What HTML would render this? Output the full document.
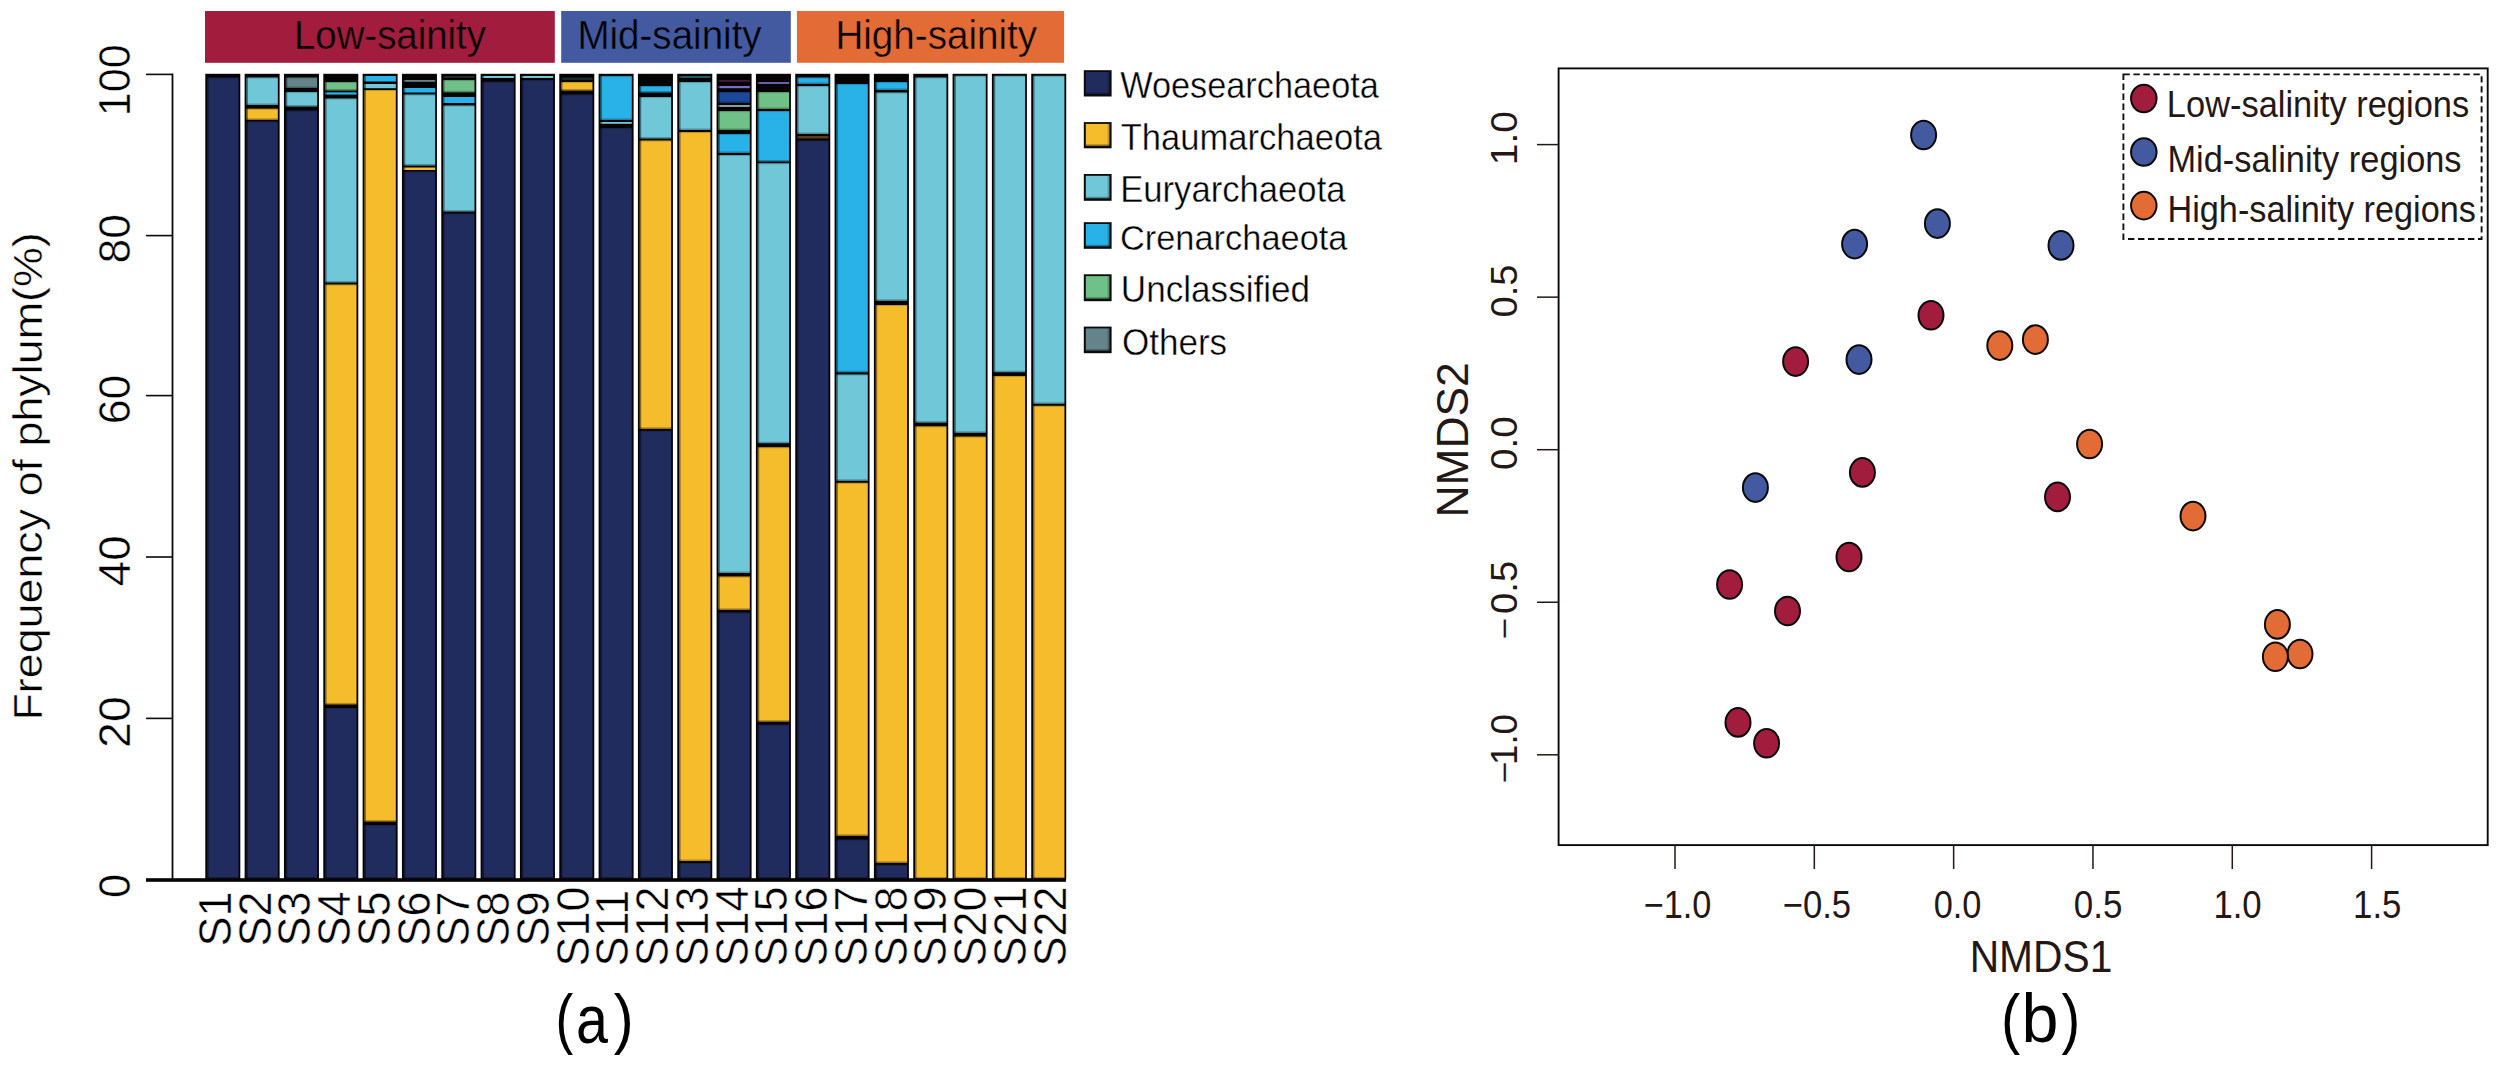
<!DOCTYPE html>
<html lang="en"><head><meta charset="utf-8"><title>Archaeal community composition and NMDS</title>
<style>html,body{margin:0;padding:0;background:#fff}body{width:2500px;height:1074px;overflow:hidden}svg{display:block}svg text{font-family:"Liberation Sans",Arial,Helvetica,sans-serif}</style>
</head><body>
<svg width="2500" height="1074" viewBox="0 0 2500 1074" role="img" aria-label="Archaeal phylum composition bar chart and NMDS ordination">
<rect width="2500" height="1074" fill="#fff"/>
<rect x="205" y="11" width="349.8" height="51.8" fill="#A21C3E"/>
<rect x="561.2" y="11" width="229.6" height="51.8" fill="#435AA0"/>
<rect x="796.9" y="11" width="267.2" height="51.8" fill="#E36C36"/>
<rect x="205.30" y="73.8" width="35.0" height="805.6" fill="#070304"/>
<rect x="207.10" y="77.5" width="31.40" height="800.90" fill="#1F2C5D"/>
<rect x="207.10" y="876.90" width="31.40" height="1.5" fill="#000" opacity="0.28"/>
<rect x="207.10" y="77.50" width="31.40" height="1.1" fill="#000" opacity="0.2"/>
<rect x="207.10" y="75" width="1.5" height="803.4" fill="#000" opacity="0.45"/>
<rect x="244.63" y="73.8" width="35.0" height="805.6" fill="#070304"/>
<rect x="246.43" y="77.5" width="31.40" height="27.50" fill="#70C7D8"/>
<rect x="246.43" y="103.50" width="31.40" height="1.5" fill="#000" opacity="0.28"/>
<rect x="246.43" y="77.50" width="31.40" height="1.1" fill="#000" opacity="0.2"/>
<rect x="246.43" y="108.7" width="31.40" height="11.10" fill="#F5BC2C"/>
<rect x="246.43" y="118.30" width="31.40" height="1.5" fill="#000" opacity="0.28"/>
<rect x="246.43" y="108.70" width="31.40" height="1.1" fill="#000" opacity="0.2"/>
<rect x="246.43" y="121.5" width="31.40" height="756.90" fill="#1F2C5D"/>
<rect x="246.43" y="876.90" width="31.40" height="1.5" fill="#000" opacity="0.28"/>
<rect x="246.43" y="121.50" width="31.40" height="1.1" fill="#000" opacity="0.2"/>
<rect x="246.43" y="75" width="1.5" height="803.4" fill="#000" opacity="0.45"/>
<rect x="283.96" y="73.8" width="35.0" height="805.6" fill="#070304"/>
<rect x="285.76" y="77.5" width="31.40" height="10.50" fill="#64838A"/>
<rect x="285.76" y="86.50" width="31.40" height="1.5" fill="#000" opacity="0.28"/>
<rect x="285.76" y="77.50" width="31.40" height="1.1" fill="#000" opacity="0.2"/>
<rect x="285.76" y="92" width="31.40" height="14.50" fill="#70C7D8"/>
<rect x="285.76" y="105.00" width="31.40" height="1.5" fill="#000" opacity="0.28"/>
<rect x="285.76" y="92.00" width="31.40" height="1.1" fill="#000" opacity="0.2"/>
<rect x="285.76" y="110.5" width="31.40" height="767.90" fill="#1F2C5D"/>
<rect x="285.76" y="876.90" width="31.40" height="1.5" fill="#000" opacity="0.28"/>
<rect x="285.76" y="110.50" width="31.40" height="1.1" fill="#000" opacity="0.2"/>
<rect x="285.76" y="75" width="1.5" height="803.4" fill="#000" opacity="0.45"/>
<rect x="323.29" y="73.8" width="35.0" height="805.6" fill="#070304"/>
<rect x="325.09" y="82" width="31.40" height="8.50" fill="#6FC187"/>
<rect x="325.09" y="89.00" width="31.40" height="1.5" fill="#000" opacity="0.28"/>
<rect x="325.09" y="82.00" width="31.40" height="1.1" fill="#000" opacity="0.2"/>
<rect x="325.09" y="92.3" width="31.40" height="2.30" fill="#28B2E8"/>
<rect x="325.09" y="98.5" width="31.40" height="184.00" fill="#70C7D8"/>
<rect x="325.09" y="281.00" width="31.40" height="1.5" fill="#000" opacity="0.28"/>
<rect x="325.09" y="98.50" width="31.40" height="1.1" fill="#000" opacity="0.2"/>
<rect x="325.09" y="284.5" width="31.40" height="419.90" fill="#F5BC2C"/>
<rect x="325.09" y="702.90" width="31.40" height="1.5" fill="#000" opacity="0.28"/>
<rect x="325.09" y="284.50" width="31.40" height="1.1" fill="#000" opacity="0.2"/>
<rect x="325.09" y="708" width="31.40" height="170.40" fill="#1F2C5D"/>
<rect x="325.09" y="876.90" width="31.40" height="1.5" fill="#000" opacity="0.28"/>
<rect x="325.09" y="708.00" width="31.40" height="1.1" fill="#000" opacity="0.2"/>
<rect x="325.09" y="75" width="1.5" height="803.4" fill="#000" opacity="0.45"/>
<rect x="362.62" y="73.8" width="35.0" height="805.6" fill="#070304"/>
<rect x="364.42" y="76" width="31.40" height="5.50" fill="#28B2E8"/>
<rect x="364.42" y="84" width="31.40" height="4.20" fill="#70C7D8"/>
<rect x="364.42" y="90" width="31.40" height="731.50" fill="#F5BC2C"/>
<rect x="364.42" y="820.00" width="31.40" height="1.5" fill="#000" opacity="0.28"/>
<rect x="364.42" y="90.00" width="31.40" height="1.1" fill="#000" opacity="0.2"/>
<rect x="364.42" y="825" width="31.40" height="53.40" fill="#1F2C5D"/>
<rect x="364.42" y="876.90" width="31.40" height="1.5" fill="#000" opacity="0.28"/>
<rect x="364.42" y="825.00" width="31.40" height="1.1" fill="#000" opacity="0.2"/>
<rect x="364.42" y="75" width="1.5" height="803.4" fill="#000" opacity="0.45"/>
<rect x="401.95" y="73.8" width="35.0" height="805.6" fill="#070304"/>
<rect x="403.75" y="80" width="31.40" height="1.80" fill="#64838A"/>
<rect x="403.75" y="88" width="31.40" height="4.50" fill="#28B2E8"/>
<rect x="403.75" y="94.5" width="31.40" height="71.00" fill="#70C7D8"/>
<rect x="403.75" y="164.00" width="31.40" height="1.5" fill="#000" opacity="0.28"/>
<rect x="403.75" y="94.50" width="31.40" height="1.1" fill="#000" opacity="0.2"/>
<rect x="403.75" y="167.5" width="31.40" height="2.50" fill="#F5BC2C"/>
<rect x="403.75" y="171.5" width="31.40" height="706.90" fill="#1F2C5D"/>
<rect x="403.75" y="876.90" width="31.40" height="1.5" fill="#000" opacity="0.28"/>
<rect x="403.75" y="171.50" width="31.40" height="1.1" fill="#000" opacity="0.2"/>
<rect x="403.75" y="75" width="1.5" height="803.4" fill="#000" opacity="0.45"/>
<rect x="441.28" y="73.8" width="35.0" height="805.6" fill="#070304"/>
<rect x="443.08" y="76" width="31.40" height="2.00" fill="#1a2a28"/>
<rect x="443.08" y="80" width="31.40" height="12.30" fill="#6FC187"/>
<rect x="443.08" y="90.80" width="31.40" height="1.5" fill="#000" opacity="0.28"/>
<rect x="443.08" y="80.00" width="31.40" height="1.1" fill="#000" opacity="0.2"/>
<rect x="443.08" y="97" width="31.40" height="6.00" fill="#28B2E8"/>
<rect x="443.08" y="105.5" width="31.40" height="106.00" fill="#70C7D8"/>
<rect x="443.08" y="210.00" width="31.40" height="1.5" fill="#000" opacity="0.28"/>
<rect x="443.08" y="105.50" width="31.40" height="1.1" fill="#000" opacity="0.2"/>
<rect x="443.08" y="213.5" width="31.40" height="664.90" fill="#1F2C5D"/>
<rect x="443.08" y="876.90" width="31.40" height="1.5" fill="#000" opacity="0.28"/>
<rect x="443.08" y="213.50" width="31.40" height="1.1" fill="#000" opacity="0.2"/>
<rect x="443.08" y="75" width="1.5" height="803.4" fill="#000" opacity="0.45"/>
<rect x="480.61" y="73.8" width="35.0" height="805.6" fill="#070304"/>
<rect x="482.41" y="76" width="31.40" height="2.00" fill="#70C7D8"/>
<rect x="482.41" y="81.8" width="31.40" height="796.60" fill="#1F2C5D"/>
<rect x="482.41" y="876.90" width="31.40" height="1.5" fill="#000" opacity="0.28"/>
<rect x="482.41" y="81.80" width="31.40" height="1.1" fill="#000" opacity="0.2"/>
<rect x="482.41" y="75" width="1.5" height="803.4" fill="#000" opacity="0.45"/>
<rect x="519.94" y="73.8" width="35.0" height="805.6" fill="#070304"/>
<rect x="521.74" y="76" width="31.40" height="2.00" fill="#70C7D8"/>
<rect x="521.74" y="80" width="31.40" height="798.40" fill="#1F2C5D"/>
<rect x="521.74" y="876.90" width="31.40" height="1.5" fill="#000" opacity="0.28"/>
<rect x="521.74" y="80.00" width="31.40" height="1.1" fill="#000" opacity="0.2"/>
<rect x="521.74" y="75" width="1.5" height="803.4" fill="#000" opacity="0.45"/>
<rect x="559.27" y="73.8" width="35.0" height="805.6" fill="#070304"/>
<rect x="561.07" y="77.5" width="31.40" height="2.50" fill="#1a2a28"/>
<rect x="561.07" y="82" width="31.40" height="8.50" fill="#F5BC2C"/>
<rect x="561.07" y="89.00" width="31.40" height="1.5" fill="#000" opacity="0.28"/>
<rect x="561.07" y="82.00" width="31.40" height="1.1" fill="#000" opacity="0.2"/>
<rect x="561.07" y="94.5" width="31.40" height="783.90" fill="#1F2C5D"/>
<rect x="561.07" y="876.90" width="31.40" height="1.5" fill="#000" opacity="0.28"/>
<rect x="561.07" y="94.50" width="31.40" height="1.1" fill="#000" opacity="0.2"/>
<rect x="561.07" y="75" width="1.5" height="803.4" fill="#000" opacity="0.45"/>
<rect x="598.60" y="73.8" width="35.0" height="805.6" fill="#070304"/>
<rect x="600.40" y="76" width="31.40" height="44.00" fill="#28B2E8"/>
<rect x="600.40" y="118.50" width="31.40" height="1.5" fill="#000" opacity="0.28"/>
<rect x="600.40" y="76.00" width="31.40" height="1.1" fill="#000" opacity="0.2"/>
<rect x="600.40" y="122" width="31.40" height="1.80" fill="#70C7D8"/>
<rect x="600.40" y="128" width="31.40" height="750.40" fill="#1F2C5D"/>
<rect x="600.40" y="876.90" width="31.40" height="1.5" fill="#000" opacity="0.28"/>
<rect x="600.40" y="128.00" width="31.40" height="1.1" fill="#000" opacity="0.2"/>
<rect x="600.40" y="75" width="1.5" height="803.4" fill="#000" opacity="0.45"/>
<rect x="637.93" y="73.8" width="35.0" height="805.6" fill="#070304"/>
<rect x="639.73" y="86" width="31.40" height="6.50" fill="#28B2E8"/>
<rect x="639.73" y="91.00" width="31.40" height="1.5" fill="#000" opacity="0.28"/>
<rect x="639.73" y="86.00" width="31.40" height="1.1" fill="#000" opacity="0.2"/>
<rect x="639.73" y="97" width="31.40" height="41.50" fill="#70C7D8"/>
<rect x="639.73" y="137.00" width="31.40" height="1.5" fill="#000" opacity="0.28"/>
<rect x="639.73" y="97.00" width="31.40" height="1.1" fill="#000" opacity="0.2"/>
<rect x="639.73" y="140.5" width="31.40" height="288.30" fill="#F5BC2C"/>
<rect x="639.73" y="427.30" width="31.40" height="1.5" fill="#000" opacity="0.28"/>
<rect x="639.73" y="140.50" width="31.40" height="1.1" fill="#000" opacity="0.2"/>
<rect x="639.73" y="430.7" width="31.40" height="447.70" fill="#1F2C5D"/>
<rect x="639.73" y="876.90" width="31.40" height="1.5" fill="#000" opacity="0.28"/>
<rect x="639.73" y="430.70" width="31.40" height="1.1" fill="#000" opacity="0.2"/>
<rect x="639.73" y="75" width="1.5" height="803.4" fill="#000" opacity="0.45"/>
<rect x="677.26" y="73.8" width="35.0" height="805.6" fill="#070304"/>
<rect x="679.06" y="76" width="31.40" height="2.00" fill="#1a5a69"/>
<rect x="679.06" y="82" width="31.40" height="48.00" fill="#70C7D8"/>
<rect x="679.06" y="128.50" width="31.40" height="1.5" fill="#000" opacity="0.28"/>
<rect x="679.06" y="82.00" width="31.40" height="1.1" fill="#000" opacity="0.2"/>
<rect x="679.06" y="132" width="31.40" height="729.00" fill="#F5BC2C"/>
<rect x="679.06" y="859.50" width="31.40" height="1.5" fill="#000" opacity="0.28"/>
<rect x="679.06" y="132.00" width="31.40" height="1.1" fill="#000" opacity="0.2"/>
<rect x="679.06" y="863" width="31.40" height="15.40" fill="#1F2C5D"/>
<rect x="679.06" y="876.90" width="31.40" height="1.5" fill="#000" opacity="0.28"/>
<rect x="679.06" y="863.00" width="31.40" height="1.1" fill="#000" opacity="0.2"/>
<rect x="679.06" y="75" width="1.5" height="803.4" fill="#000" opacity="0.45"/>
<rect x="716.59" y="73.8" width="35.0" height="805.6" fill="#070304"/>
<rect x="718.39" y="80" width="31.40" height="1.80" fill="#46193c"/>
<rect x="718.39" y="86" width="31.40" height="2.20" fill="#786ec8"/>
<rect x="718.39" y="92" width="31.40" height="11.00" fill="#1B489B"/>
<rect x="718.39" y="101.50" width="31.40" height="1.5" fill="#000" opacity="0.28"/>
<rect x="718.39" y="92.00" width="31.40" height="1.1" fill="#000" opacity="0.2"/>
<rect x="718.39" y="105" width="31.40" height="2.00" fill="#82a0a5"/>
<rect x="718.39" y="111" width="31.40" height="19.00" fill="#6FC187"/>
<rect x="718.39" y="128.50" width="31.40" height="1.5" fill="#000" opacity="0.28"/>
<rect x="718.39" y="111.00" width="31.40" height="1.1" fill="#000" opacity="0.2"/>
<rect x="718.39" y="134" width="31.40" height="19.00" fill="#28B2E8"/>
<rect x="718.39" y="151.50" width="31.40" height="1.5" fill="#000" opacity="0.28"/>
<rect x="718.39" y="134.00" width="31.40" height="1.1" fill="#000" opacity="0.2"/>
<rect x="718.39" y="155" width="31.40" height="418.00" fill="#70C7D8"/>
<rect x="718.39" y="571.50" width="31.40" height="1.5" fill="#000" opacity="0.28"/>
<rect x="718.39" y="155.00" width="31.40" height="1.1" fill="#000" opacity="0.2"/>
<rect x="718.39" y="576.5" width="31.40" height="33.30" fill="#F5BC2C"/>
<rect x="718.39" y="608.30" width="31.40" height="1.5" fill="#000" opacity="0.28"/>
<rect x="718.39" y="576.50" width="31.40" height="1.1" fill="#000" opacity="0.2"/>
<rect x="718.39" y="612.5" width="31.40" height="265.90" fill="#1F2C5D"/>
<rect x="718.39" y="876.90" width="31.40" height="1.5" fill="#000" opacity="0.28"/>
<rect x="718.39" y="612.50" width="31.40" height="1.1" fill="#000" opacity="0.2"/>
<rect x="718.39" y="75" width="1.5" height="803.4" fill="#000" opacity="0.45"/>
<rect x="755.92" y="73.8" width="35.0" height="805.6" fill="#070304"/>
<rect x="757.72" y="82" width="31.40" height="2.00" fill="#695faf"/>
<rect x="757.72" y="92" width="31.40" height="17.00" fill="#6FC187"/>
<rect x="757.72" y="107.50" width="31.40" height="1.5" fill="#000" opacity="0.28"/>
<rect x="757.72" y="92.00" width="31.40" height="1.1" fill="#000" opacity="0.2"/>
<rect x="757.72" y="111" width="31.40" height="50.50" fill="#28B2E8"/>
<rect x="757.72" y="160.00" width="31.40" height="1.5" fill="#000" opacity="0.28"/>
<rect x="757.72" y="111.00" width="31.40" height="1.1" fill="#000" opacity="0.2"/>
<rect x="757.72" y="163.2" width="31.40" height="280.00" fill="#70C7D8"/>
<rect x="757.72" y="441.70" width="31.40" height="1.5" fill="#000" opacity="0.28"/>
<rect x="757.72" y="163.20" width="31.40" height="1.1" fill="#000" opacity="0.2"/>
<rect x="757.72" y="447.2" width="31.40" height="274.40" fill="#F5BC2C"/>
<rect x="757.72" y="720.10" width="31.40" height="1.5" fill="#000" opacity="0.28"/>
<rect x="757.72" y="447.20" width="31.40" height="1.1" fill="#000" opacity="0.2"/>
<rect x="757.72" y="724.7" width="31.40" height="153.70" fill="#1F2C5D"/>
<rect x="757.72" y="876.90" width="31.40" height="1.5" fill="#000" opacity="0.28"/>
<rect x="757.72" y="724.70" width="31.40" height="1.1" fill="#000" opacity="0.2"/>
<rect x="757.72" y="75" width="1.5" height="803.4" fill="#000" opacity="0.45"/>
<rect x="795.25" y="73.8" width="35.0" height="805.6" fill="#070304"/>
<rect x="797.05" y="77.5" width="31.40" height="6.50" fill="#28B2E8"/>
<rect x="797.05" y="82.50" width="31.40" height="1.5" fill="#000" opacity="0.28"/>
<rect x="797.05" y="77.50" width="31.40" height="1.1" fill="#000" opacity="0.2"/>
<rect x="797.05" y="86" width="31.40" height="48.00" fill="#70C7D8"/>
<rect x="797.05" y="132.50" width="31.40" height="1.5" fill="#000" opacity="0.28"/>
<rect x="797.05" y="86.00" width="31.40" height="1.1" fill="#000" opacity="0.2"/>
<rect x="797.05" y="136" width="31.40" height="2.50" fill="#5f3c19"/>
<rect x="797.05" y="140.5" width="31.40" height="737.90" fill="#1F2C5D"/>
<rect x="797.05" y="876.90" width="31.40" height="1.5" fill="#000" opacity="0.28"/>
<rect x="797.05" y="140.50" width="31.40" height="1.1" fill="#000" opacity="0.2"/>
<rect x="797.05" y="75" width="1.5" height="803.4" fill="#000" opacity="0.45"/>
<rect x="834.58" y="73.8" width="35.0" height="805.6" fill="#070304"/>
<rect x="836.38" y="84" width="31.40" height="288.30" fill="#28B2E8"/>
<rect x="836.38" y="370.80" width="31.40" height="1.5" fill="#000" opacity="0.28"/>
<rect x="836.38" y="84.00" width="31.40" height="1.1" fill="#000" opacity="0.2"/>
<rect x="836.38" y="374.5" width="31.40" height="106.30" fill="#70C7D8"/>
<rect x="836.38" y="479.30" width="31.40" height="1.5" fill="#000" opacity="0.28"/>
<rect x="836.38" y="374.50" width="31.40" height="1.1" fill="#000" opacity="0.2"/>
<rect x="836.38" y="482.8" width="31.40" height="353.00" fill="#F5BC2C"/>
<rect x="836.38" y="834.30" width="31.40" height="1.5" fill="#000" opacity="0.28"/>
<rect x="836.38" y="482.80" width="31.40" height="1.1" fill="#000" opacity="0.2"/>
<rect x="836.38" y="839.6" width="31.40" height="38.80" fill="#1F2C5D"/>
<rect x="836.38" y="876.90" width="31.40" height="1.5" fill="#000" opacity="0.28"/>
<rect x="836.38" y="839.60" width="31.40" height="1.1" fill="#000" opacity="0.2"/>
<rect x="836.38" y="75" width="1.5" height="803.4" fill="#000" opacity="0.45"/>
<rect x="873.91" y="73.8" width="35.0" height="805.6" fill="#070304"/>
<rect x="875.71" y="82" width="31.40" height="8.00" fill="#28B2E8"/>
<rect x="875.71" y="88.50" width="31.40" height="1.5" fill="#000" opacity="0.28"/>
<rect x="875.71" y="82.00" width="31.40" height="1.1" fill="#000" opacity="0.2"/>
<rect x="875.71" y="92.5" width="31.40" height="208.30" fill="#70C7D8"/>
<rect x="875.71" y="299.30" width="31.40" height="1.5" fill="#000" opacity="0.28"/>
<rect x="875.71" y="92.50" width="31.40" height="1.1" fill="#000" opacity="0.2"/>
<rect x="875.71" y="305" width="31.40" height="557.80" fill="#F5BC2C"/>
<rect x="875.71" y="861.30" width="31.40" height="1.5" fill="#000" opacity="0.28"/>
<rect x="875.71" y="305.00" width="31.40" height="1.1" fill="#000" opacity="0.2"/>
<rect x="875.71" y="864.8" width="31.40" height="13.60" fill="#1F2C5D"/>
<rect x="875.71" y="876.90" width="31.40" height="1.5" fill="#000" opacity="0.28"/>
<rect x="875.71" y="864.80" width="31.40" height="1.1" fill="#000" opacity="0.2"/>
<rect x="875.71" y="75" width="1.5" height="803.4" fill="#000" opacity="0.45"/>
<rect x="913.24" y="73.8" width="35.0" height="805.6" fill="#070304"/>
<rect x="915.04" y="77.5" width="31.40" height="345.10" fill="#70C7D8"/>
<rect x="915.04" y="421.10" width="31.40" height="1.5" fill="#000" opacity="0.28"/>
<rect x="915.04" y="77.50" width="31.40" height="1.1" fill="#000" opacity="0.2"/>
<rect x="915.04" y="426.3" width="31.40" height="452.10" fill="#F5BC2C"/>
<rect x="915.04" y="876.90" width="31.40" height="1.5" fill="#000" opacity="0.28"/>
<rect x="915.04" y="426.30" width="31.40" height="1.1" fill="#000" opacity="0.2"/>
<rect x="915.04" y="75" width="1.5" height="803.4" fill="#000" opacity="0.45"/>
<rect x="952.57" y="73.8" width="35.0" height="805.6" fill="#070304"/>
<rect x="954.37" y="75.8" width="31.40" height="357.00" fill="#70C7D8"/>
<rect x="954.37" y="431.30" width="31.40" height="1.5" fill="#000" opacity="0.28"/>
<rect x="954.37" y="75.80" width="31.40" height="1.1" fill="#000" opacity="0.2"/>
<rect x="954.37" y="436.6" width="31.40" height="441.80" fill="#F5BC2C"/>
<rect x="954.37" y="876.90" width="31.40" height="1.5" fill="#000" opacity="0.28"/>
<rect x="954.37" y="436.60" width="31.40" height="1.1" fill="#000" opacity="0.2"/>
<rect x="954.37" y="75" width="1.5" height="803.4" fill="#000" opacity="0.45"/>
<rect x="991.90" y="73.8" width="35.0" height="805.6" fill="#070304"/>
<rect x="993.70" y="75.8" width="31.40" height="296.40" fill="#70C7D8"/>
<rect x="993.70" y="370.70" width="31.40" height="1.5" fill="#000" opacity="0.28"/>
<rect x="993.70" y="75.80" width="31.40" height="1.1" fill="#000" opacity="0.2"/>
<rect x="993.70" y="376" width="31.40" height="502.40" fill="#F5BC2C"/>
<rect x="993.70" y="876.90" width="31.40" height="1.5" fill="#000" opacity="0.28"/>
<rect x="993.70" y="376.00" width="31.40" height="1.1" fill="#000" opacity="0.2"/>
<rect x="993.70" y="75" width="1.5" height="803.4" fill="#000" opacity="0.45"/>
<rect x="1031.23" y="73.8" width="35.0" height="805.6" fill="#070304"/>
<rect x="1033.03" y="75.8" width="31.40" height="328.00" fill="#70C7D8"/>
<rect x="1033.03" y="402.30" width="31.40" height="1.5" fill="#000" opacity="0.28"/>
<rect x="1033.03" y="75.80" width="31.40" height="1.1" fill="#000" opacity="0.2"/>
<rect x="1033.03" y="405.8" width="31.40" height="472.60" fill="#F5BC2C"/>
<rect x="1033.03" y="876.90" width="31.40" height="1.5" fill="#000" opacity="0.28"/>
<rect x="1033.03" y="405.80" width="31.40" height="1.1" fill="#000" opacity="0.2"/>
<rect x="1033.03" y="75" width="1.5" height="803.4" fill="#000" opacity="0.45"/>
<rect x="171.6" y="73.6" width="1.8" height="806" fill="#0a0a0a"/>
<rect x="146" y="73.60" width="26.5" height="1.6" fill="#0a0a0a"/>
<rect x="146" y="234.80" width="26.5" height="1.6" fill="#0a0a0a"/>
<rect x="146" y="394.80" width="26.5" height="1.6" fill="#0a0a0a"/>
<rect x="146" y="556.20" width="26.5" height="1.6" fill="#0a0a0a"/>
<rect x="146" y="717.60" width="26.5" height="1.6" fill="#0a0a0a"/>
<rect x="146" y="878.2" width="920" height="3.6" fill="#070304"/>
<text transform="translate(231.00,946.5) rotate(-90) scale(1,1.02)" font-size="45" fill="#000" stroke="#fff" stroke-width="0.49">S1</text>
<text transform="translate(270.74,946.5) rotate(-90) scale(1,1.02)" font-size="45" fill="#000" stroke="#fff" stroke-width="0.49">S2</text>
<text transform="translate(310.48,946.5) rotate(-90) scale(1,1.02)" font-size="45" fill="#000" stroke="#fff" stroke-width="0.49">S3</text>
<text transform="translate(350.22,946.5) rotate(-90) scale(1,1.02)" font-size="45" fill="#000" stroke="#fff" stroke-width="0.49">S4</text>
<text transform="translate(389.96,946.5) rotate(-90) scale(1,1.02)" font-size="45" fill="#000" stroke="#fff" stroke-width="0.49">S5</text>
<text transform="translate(429.70,946.5) rotate(-90) scale(1,1.02)" font-size="45" fill="#000" stroke="#fff" stroke-width="0.49">S6</text>
<text transform="translate(469.44,946.5) rotate(-90) scale(1,1.02)" font-size="45" fill="#000" stroke="#fff" stroke-width="0.49">S7</text>
<text transform="translate(509.18,946.5) rotate(-90) scale(1,1.02)" font-size="45" fill="#000" stroke="#fff" stroke-width="0.49">S8</text>
<text transform="translate(548.92,946.5) rotate(-90) scale(1,1.02)" font-size="45" fill="#000" stroke="#fff" stroke-width="0.49">S9</text>
<text transform="translate(588.66,966.5) rotate(-90) scale(1,1.02)" font-size="45" fill="#000" stroke="#fff" stroke-width="0.49">S10</text>
<text transform="translate(628.40,966.5) rotate(-90) scale(1,1.02)" font-size="45" fill="#000" stroke="#fff" stroke-width="0.49">S11</text>
<text transform="translate(668.14,966.5) rotate(-90) scale(1,1.02)" font-size="45" fill="#000" stroke="#fff" stroke-width="0.49">S12</text>
<text transform="translate(707.88,966.5) rotate(-90) scale(1,1.02)" font-size="45" fill="#000" stroke="#fff" stroke-width="0.49">S13</text>
<text transform="translate(747.62,966.5) rotate(-90) scale(1,1.02)" font-size="45" fill="#000" stroke="#fff" stroke-width="0.49">S14</text>
<text transform="translate(787.36,966.5) rotate(-90) scale(1,1.02)" font-size="45" fill="#000" stroke="#fff" stroke-width="0.49">S15</text>
<text transform="translate(827.10,966.5) rotate(-90) scale(1,1.02)" font-size="45" fill="#000" stroke="#fff" stroke-width="0.49">S16</text>
<text transform="translate(866.84,966.5) rotate(-90) scale(1,1.02)" font-size="45" fill="#000" stroke="#fff" stroke-width="0.49">S17</text>
<text transform="translate(906.58,966.5) rotate(-90) scale(1,1.02)" font-size="45" fill="#000" stroke="#fff" stroke-width="0.49">S18</text>
<text transform="translate(946.32,966.5) rotate(-90) scale(1,1.02)" font-size="45" fill="#000" stroke="#fff" stroke-width="0.49">S19</text>
<text transform="translate(986.06,966.5) rotate(-90) scale(1,1.02)" font-size="45" fill="#000" stroke="#fff" stroke-width="0.49">S20</text>
<text transform="translate(1025.80,966.5) rotate(-90) scale(1,1.02)" font-size="45" fill="#000" stroke="#fff" stroke-width="0.49">S21</text>
<text transform="translate(1065.54,966.5) rotate(-90) scale(1,1.02)" font-size="45" fill="#000" stroke="#fff" stroke-width="0.49">S22</text>
<rect x="1083.8" y="70.2" width="27.8" height="26.3" fill="#0b0b0b"/>
<rect x="1085.8" y="72.0" width="23.6" height="21.9" fill="#1F2C5D"/>
<rect x="1107.6" y="72.0" width="1.8" height="21.9" fill="#000" opacity="0.22"/>
<rect x="1085.8" y="92.4" width="23.6" height="1.5" fill="#000" opacity="0.28"/>
<rect x="1083.8" y="122.1" width="27.8" height="26.2" fill="#0b0b0b"/>
<rect x="1085.8" y="123.89999999999999" width="23.6" height="21.8" fill="#F5BC2C"/>
<rect x="1107.6" y="123.89999999999999" width="1.8" height="21.8" fill="#000" opacity="0.22"/>
<rect x="1085.8" y="144.2" width="23.6" height="1.5" fill="#000" opacity="0.28"/>
<rect x="1083.8" y="174" width="27.8" height="26.8" fill="#0b0b0b"/>
<rect x="1085.8" y="175.8" width="23.6" height="22.4" fill="#70C7D8"/>
<rect x="1107.6" y="175.8" width="1.8" height="22.4" fill="#000" opacity="0.22"/>
<rect x="1085.8" y="196.7" width="23.6" height="1.5" fill="#000" opacity="0.28"/>
<rect x="1083.8" y="222.2" width="27.8" height="26.6" fill="#0b0b0b"/>
<rect x="1085.8" y="224.0" width="23.6" height="22.2" fill="#28B2E8"/>
<rect x="1107.6" y="224.0" width="1.8" height="22.2" fill="#000" opacity="0.22"/>
<rect x="1085.8" y="244.7" width="23.6" height="1.5" fill="#000" opacity="0.28"/>
<rect x="1083.8" y="274.3" width="27.8" height="26.9" fill="#0b0b0b"/>
<rect x="1085.8" y="276.1" width="23.6" height="22.5" fill="#6FC187"/>
<rect x="1107.6" y="276.1" width="1.8" height="22.5" fill="#000" opacity="0.22"/>
<rect x="1085.8" y="297.1" width="23.6" height="1.5" fill="#000" opacity="0.28"/>
<rect x="1083.8" y="326.6" width="27.8" height="26.6" fill="#0b0b0b"/>
<rect x="1085.8" y="328.40000000000003" width="23.6" height="22.2" fill="#64838A"/>
<rect x="1107.6" y="328.40000000000003" width="1.8" height="22.2" fill="#000" opacity="0.22"/>
<rect x="1085.8" y="349.1" width="23.6" height="1.5" fill="#000" opacity="0.28"/>
<rect x="1558.6" y="68.4" width="929.1" height="776.7" fill="none" stroke="#0a0a0a" stroke-width="1.9"/>
<rect x="1674.25" y="845" width="1.5" height="24" fill="#231815"/>
<rect x="1813.57" y="845" width="1.5" height="24" fill="#231815"/>
<rect x="1952.89" y="845" width="1.5" height="24" fill="#231815"/>
<rect x="2092.21" y="845" width="1.5" height="24" fill="#231815"/>
<rect x="2231.53" y="845" width="1.5" height="24" fill="#231815"/>
<rect x="2370.85" y="845" width="1.5" height="24" fill="#231815"/>
<rect x="1537" y="143.85" width="21.6" height="1.5" fill="#231815"/>
<rect x="1537" y="296.40" width="21.6" height="1.5" fill="#231815"/>
<rect x="1537" y="448.95" width="21.6" height="1.5" fill="#231815"/>
<rect x="1537" y="601.50" width="21.6" height="1.5" fill="#231815"/>
<rect x="1537" y="754.05" width="21.6" height="1.5" fill="#231815"/>
<ellipse cx="1923.6" cy="135" rx="12.5" ry="14.3" fill="#435AA0" stroke="#0a0a0a" stroke-width="2"/>
<ellipse cx="1937.4" cy="223.6" rx="12.5" ry="14.3" fill="#435AA0" stroke="#0a0a0a" stroke-width="2"/>
<ellipse cx="1854.6" cy="244.1" rx="12.5" ry="14.3" fill="#435AA0" stroke="#0a0a0a" stroke-width="2"/>
<ellipse cx="2061" cy="245.4" rx="12.5" ry="14.3" fill="#435AA0" stroke="#0a0a0a" stroke-width="2"/>
<ellipse cx="1859" cy="359.6" rx="12.5" ry="14.3" fill="#435AA0" stroke="#0a0a0a" stroke-width="2"/>
<ellipse cx="1755.4" cy="487.6" rx="12.5" ry="14.3" fill="#435AA0" stroke="#0a0a0a" stroke-width="2"/>
<ellipse cx="1931" cy="315.2" rx="12.5" ry="14.3" fill="#A21C3E" stroke="#0a0a0a" stroke-width="2"/>
<ellipse cx="1795.6" cy="361.6" rx="12.5" ry="14.3" fill="#A21C3E" stroke="#0a0a0a" stroke-width="2"/>
<ellipse cx="1862.4" cy="472.4" rx="12.5" ry="14.3" fill="#A21C3E" stroke="#0a0a0a" stroke-width="2"/>
<ellipse cx="2057.5" cy="496.9" rx="12.5" ry="14.3" fill="#A21C3E" stroke="#0a0a0a" stroke-width="2"/>
<ellipse cx="1849" cy="557" rx="12.5" ry="14.3" fill="#A21C3E" stroke="#0a0a0a" stroke-width="2"/>
<ellipse cx="1729.6" cy="584.5" rx="12.5" ry="14.3" fill="#A21C3E" stroke="#0a0a0a" stroke-width="2"/>
<ellipse cx="1787.5" cy="611" rx="12.5" ry="14.3" fill="#A21C3E" stroke="#0a0a0a" stroke-width="2"/>
<ellipse cx="1738" cy="722.4" rx="12.5" ry="14.3" fill="#A21C3E" stroke="#0a0a0a" stroke-width="2"/>
<ellipse cx="1766.6" cy="743.2" rx="12.5" ry="14.3" fill="#A21C3E" stroke="#0a0a0a" stroke-width="2"/>
<ellipse cx="1999.8" cy="345.6" rx="12.5" ry="14.3" fill="#E36C36" stroke="#0a0a0a" stroke-width="2"/>
<ellipse cx="2035.4" cy="339.6" rx="12.5" ry="14.3" fill="#E36C36" stroke="#0a0a0a" stroke-width="2"/>
<ellipse cx="2089.6" cy="444" rx="12.5" ry="14.3" fill="#E36C36" stroke="#0a0a0a" stroke-width="2"/>
<ellipse cx="2193" cy="516.1" rx="12.5" ry="14.3" fill="#E36C36" stroke="#0a0a0a" stroke-width="2"/>
<ellipse cx="2277.4" cy="624.4" rx="12.5" ry="14.3" fill="#E36C36" stroke="#0a0a0a" stroke-width="2"/>
<ellipse cx="2300" cy="654" rx="12.5" ry="14.3" fill="#E36C36" stroke="#0a0a0a" stroke-width="2"/>
<ellipse cx="2275.4" cy="656.8" rx="12.5" ry="14.3" fill="#E36C36" stroke="#0a0a0a" stroke-width="2"/>
<rect x="2123.4" y="74.4" width="358.2" height="164.6" fill="none" stroke="#111" stroke-width="1.9" stroke-dasharray="6.4 3.6"/>
<ellipse cx="2143.8" cy="98.5" rx="12.75" ry="13.85" fill="#A21C3E" stroke="#0a0a0a" stroke-width="2"/>
<ellipse cx="2143.8" cy="152" rx="12.75" ry="13.85" fill="#435AA0" stroke="#0a0a0a" stroke-width="2"/>
<ellipse cx="2143.8" cy="205.6" rx="12.75" ry="13.85" fill="#E36C36" stroke="#0a0a0a" stroke-width="2"/>
<text transform="translate(293.93,48.50) scale(0.9365,1)" font-size="41.02" fill="#000" stroke="#A21C3E" stroke-width="0.45">Low-sainity</text>
<text transform="translate(577.42,48.50) scale(0.9399,1)" font-size="41.02" fill="#000" stroke="#435AA0" stroke-width="0.45">Mid-sainity</text>
<text transform="translate(835.41,48.50) scale(0.9415,1)" font-size="41.02" fill="#000" stroke="#E36C36" stroke-width="0.45">High-sainity</text>
<text transform="translate(129.96,116.23) rotate(-90) scale(0.9743,1)" font-size="44.23" fill="#000" stroke="#fff" stroke-width="0.49">100</text>
<text transform="translate(129.96,263.40) rotate(-90) scale(1.0054,1)" font-size="44.23" fill="#000" stroke="#fff" stroke-width="0.49">80</text>
<text transform="translate(129.96,424.23) rotate(-90) scale(1.0103,1)" font-size="44.23" fill="#000" stroke="#fff" stroke-width="0.49">60</text>
<text transform="translate(130.40,586.14) rotate(-90) scale(1.0191,1)" font-size="44.86" fill="#000" stroke="#fff" stroke-width="0.49">40</text>
<text transform="translate(130.40,747.92) rotate(-90) scale(1.0353,1)" font-size="44.86" fill="#000" stroke="#fff" stroke-width="0.49">20</text>
<text transform="translate(129.96,897.94) rotate(-90) scale(0.9854,1)" font-size="44.23" fill="#000" stroke="#fff" stroke-width="0.49">0</text>
<text transform="translate(41.60,720.59) rotate(-90) scale(1.0856,1)" font-size="41.30" fill="#000" stroke="#fff" stroke-width="0.45">Frequency of phylum(%)</text>
<text transform="translate(1120.13,98.40) scale(0.9261,1)" font-size="37.06" fill="#000" stroke="#fff" stroke-width="0.41">Woesearchaeota</text>
<text transform="translate(1120.74,150.20) scale(0.9329,1)" font-size="37.06" fill="#000" stroke="#fff" stroke-width="0.41">Thaumarchaeota</text>
<text transform="translate(1120.13,202.10) scale(0.9353,1)" font-size="37.06" fill="#000" stroke="#fff" stroke-width="0.41">Euryarchaeota</text>
<text transform="translate(1119.88,249.60) scale(0.9611,1)" font-size="35.80" fill="#000" stroke="#fff" stroke-width="0.39">Crenarchaeota</text>
<text transform="translate(1120.87,301.60) scale(0.9330,1)" font-size="37.62" fill="#000" stroke="#fff" stroke-width="0.41">Unclassified</text>
<text transform="translate(1121.92,354.70) scale(0.9462,1)" font-size="37.06" fill="#000" stroke="#fff" stroke-width="0.41">Others</text>
<text transform="translate(1969.64,971.50) scale(0.9075,1)" font-size="44.93" fill="#231815">NMDS1</text>
<text transform="translate(1467.60,517.55) rotate(-90) scale(1.0210,1)" font-size="43.48" fill="#231815">NMDS2</text>
<text transform="translate(1643.69,917.52) scale(0.8913,1)" font-size="38.45" fill="#231815">−1.0</text>
<text transform="translate(1782.67,917.52) scale(0.9020,1)" font-size="38.45" fill="#231815">−0.5</text>
<text transform="translate(1933.63,917.52) scale(0.8934,1)" font-size="38.45" fill="#231815">0.0</text>
<text transform="translate(2073.80,917.52) scale(0.9093,1)" font-size="38.45" fill="#231815">0.5</text>
<text transform="translate(2213.39,917.52) scale(0.9036,1)" font-size="38.45" fill="#231815">1.0</text>
<text transform="translate(2353.09,917.51) scale(0.8909,1)" font-size="39.00" fill="#231815">1.5</text>
<text transform="translate(1516.93,165.22) rotate(-90) scale(1.0502,1)" font-size="37.04" fill="#231815">1.0</text>
<text transform="translate(1516.93,317.53) rotate(-90) scale(1.0304,1)" font-size="37.04" fill="#231815">0.5</text>
<text transform="translate(1516.93,469.94) rotate(-90) scale(1.0386,1)" font-size="37.04" fill="#231815">0.0</text>
<text transform="translate(2166.85,117.00) scale(0.9222,1)" font-size="37.34" fill="#231815">Low-salinity regions</text>
<text transform="translate(2167.45,171.60) scale(0.9205,1)" font-size="37.34" fill="#231815">Mid-salinity regions</text>
<text transform="translate(2167.46,221.80) scale(0.9175,1)" font-size="37.34" fill="#231815">High-salinity regions</text>
<text fill="#000"><tspan x="555.61" y="1041.23" font-size="66.52" textLength="17.72" lengthAdjust="spacingAndGlyphs">(</tspan><tspan x="576.01" y="1042.52" font-size="67.82" textLength="31.95" lengthAdjust="spacingAndGlyphs">a</tspan><tspan x="613.80" y="1041.23" font-size="66.52" textLength="19.98" lengthAdjust="spacingAndGlyphs">)</tspan></text>
<text fill="#000"><tspan x="2000.94" y="1041.39" font-size="66.74" textLength="19.23" lengthAdjust="spacingAndGlyphs">(</tspan><tspan x="2021.58" y="1042.32" font-size="67.62" textLength="36.95" lengthAdjust="spacingAndGlyphs">b</tspan><tspan x="2061.44" y="1041.39" font-size="66.74" textLength="18.70" lengthAdjust="spacingAndGlyphs">)</tspan></text>
<text transform="rotate(-90)" fill="#231815"><tspan x="-639.46" y="1514.73" font-size="31.43" textLength="21.67" lengthAdjust="spacingAndGlyphs">−</tspan><tspan x="-613.93" y="1516.93" font-size="37.04" textLength="53.06" lengthAdjust="spacingAndGlyphs">0.5</tspan></text>
<text transform="rotate(-90)" fill="#231815"><tspan x="-783.48" y="1514.73" font-size="31.43" textLength="21.91" lengthAdjust="spacingAndGlyphs">−</tspan><tspan x="-764.94" y="1516.93" font-size="37.04" textLength="50.81" lengthAdjust="spacingAndGlyphs">1.0</tspan></text>
</svg>
</body></html>
